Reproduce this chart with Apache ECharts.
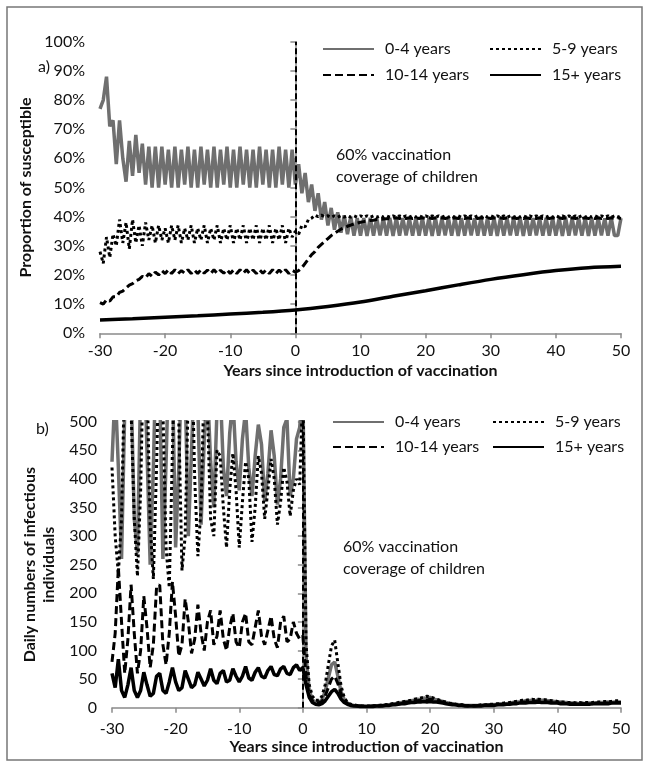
<!DOCTYPE html>
<html>
<head>
<meta charset="utf-8">
<script src="https://cdn.jsdelivr.net/npm/echarts@6/dist/echarts.min.js"></script>
<style>
  html, body { margin: 0; padding: 0; background: #fff; }
  #chart { width: 648px; height: 766px; }
</style>
</head>
<body>
<div id="chart"></div>
<script>
// sampling grid: every half year from -30 to 50
const years = [];
for (let i = 0; i <= 160; i++) years.push(-30 + i * 0.5);

const seriesNames = ['0-4 years', '5-9 years', '10-14 years', '15+ years'];

// ---- panel a) proportion of susceptible (%) ----
const aAge0to4 = [
  77,80,88,71,73,58,73,60,52,66,
  54,68,55,65,51,64,50,64,50,64,
  51,63,50,64,50,63,51,64,50,63,
  50,64,51,63,50,64,50,63,51,64,
  50,63,50,64,51,63,50,63,50,64,
  51,63,50,63,50,64,51,63,50,63,
  51,58,48,55,45,51,42,48,39,45,
  37,43,35.5,41.5,34.5,40.5,34,40,33.5,39.5,
  33.5,39.5,33.4,39.6,33.5,39.4,33.6,39.5,33.5,39.6,
  33.4,39.5,33.5,39.5,33.6,39.4,33.5,39.6,33.5,39.5,
  33.5,39.5,33.4,39.6,33.5,39.4,33.6,39.5,33.5,39.6,
  33.4,39.5,33.5,39.5,33.6,39.4,33.5,39.6,33.5,39.5,
  33.5,39.5,33.4,39.6,33.5,39.4,33.6,39.5,33.5,39.6,
  33.4,39.5,33.5,39.5,33.6,39.4,33.5,39.6,33.5,39.5,
  33.5,39.5,33.4,39.6,33.5,39.4,33.6,39.5,33.5,39.6,
  33.4,39.5,33.5,39.5,33.6,39.4,33.5,39.6,33.5,33.5,
  39.5
];
const aAge5to9 = [
  28,24,33,26,34,30,39,31,38,29,
  39,31,37,30,38,32,37,31,37,32,
  36,31,37,32,37,31,36,32,37,31,
  36,32,37,31,36,32,37,31,36,32,
  37,31,36,32,37,31,36,32,37,31,
  36,32,37,31,36,32,37,31,36,33,
  35,34,37,36.5,39,39.5,40.5,40,40.5,40,
  40.3,39.8,40.3,39.8,40.3,39.8,40.3,39.8,40.3,39.8,
  40.3,39.8,40.3,39.8,40.3,39.8,40.3,39.8,40.3,39.8,
  40.3,39.8,40.3,39.8,40.3,39.8,40.3,39.8,40.3,39.8,
  40.3,39.8,40.3,39.8,40.3,39.8,40.3,39.8,40.3,39.8,
  40.3,39.8,40.3,39.8,40.3,39.8,40.3,39.8,40.3,39.8,
  40.3,39.8,40.3,39.8,40.3,39.8,40.3,39.8,40.3,39.8,
  40.3,39.8,40.3,39.8,40.3,39.8,40.3,39.8,40.3,39.8,
  40.3,39.8,40.3,39.8,40.3,39.8,40.3,39.8,40.3,39.8,
  40.3,39.8,40.3,39.8,40.3,39.8,40.3,39.8,40.3,39.8,
  40.3
];
const aAge10to14 = [
  10.5,10,11.5,11,12.5,12.5,14,14.5,15.5,16.5,
  17,18,18.5,19.5,19,20.5,19.5,21,20,21.5,
  20.5,21.8,20.5,21.8,20.5,21.5,20.6,21.8,20.5,21.7,
  20.5,21.8,20.6,21.7,20.5,21.8,20.5,21.6,20.6,21.8,
  20.5,21.7,20.5,21.8,20.6,21.8,20.5,21.7,20.5,21.8,
  20.6,21.7,20.5,21.8,20.5,21.7,20.6,21.8,20.5,21.6,
  21,21.5,22.5,24,25.5,27,28,29.5,30.5,31.5,
  32.5,33.5,34.3,35,35.7,36.2,36.7,37.1,37.5,37.8,
  38.1,38.3,38.5,38.7,38.8,39,39.1,39.2,39.3,39.3,
  39.4,39.6,39.4,39.6,39.4,39.6,39.4,39.6,39.4,39.6,
  39.4,39.6,39.4,39.6,39.4,39.6,39.4,39.6,39.4,39.6,
  39.4,39.6,39.4,39.6,39.4,39.6,39.4,39.6,39.4,39.6,
  39.4,39.6,39.4,39.6,39.4,39.6,39.4,39.6,39.4,39.6,
  39.4,39.6,39.4,39.6,39.4,39.6,39.4,39.6,39.4,39.6,
  39.4,39.6,39.4,39.6,39.4,39.6,39.4,39.6,39.4,39.6,
  39.4,39.6,39.4,39.6,39.4,39.6,39.4,39.6,39.4,39.6,
  39.4
];
const aAdultYears = [-30,-25,-20,-15,-10,-5,0,5,10,15,20,25,30,35,40,45,50];
const aAge15plus = [4.6,5.0,5.5,6.0,6.6,7.2,8.0,9.2,10.7,12.7,14.6,16.6,18.5,20.1,21.5,22.5,23.0];

// ---- panel b) daily numbers of infectious individuals ----
const bAge0to4 = [
  430,560,420,260,520,640,560,330,270,560,
  640,450,250,420,650,560,260,430,640,580,
  280,420,630,560,300,450,600,520,320,470,
  560,430,350,520,560,420,370,480,540,430,
  380,470,520,420,370,440,495,460,360,410,
  485,440,355,400,490,505,370,400,470,490,
  560,
  90,30,14,9,9,14,28,52,75,80,
  55,28,14,8,5,4,3,3,3,2,
  3,3,3,4,4,5,5,6,7,8,
  9,10,11,12,13,15,14,17,15,18,
  15,14,12,11,9,8,7,6,5,5,
  4,4,4,4,4,4,5,5,5,5,
  6,6,7,7,8,9,10,10,11,12,
  12,13,12,14,13,13,12,12,11,10,
  10,9,9,8,8,8,7,8,7,8,
  8,8,9,9,9,10,9,10,10,10
];
const bAge5to9 = [
  420,300,235,330,600,700,520,330,230,380,
  650,580,320,225,420,680,520,280,210,450,
  680,500,240,300,560,650,400,265,350,580,
  520,330,300,450,440,350,280,380,445,380,
  280,360,430,400,290,350,440,410,330,380,
  435,400,320,360,420,395,335,380,400,390,
  560,
  110,40,20,13,13,20,40,75,108,118,
  78,38,18,9,6,5,4,3,3,3,
  3,3,4,4,5,5,6,7,8,9,
  10,11,12,13,15,16,17,18,20,19,
  17,15,13,11,10,8,7,6,5,5,
  4,4,4,4,4,5,5,5,6,6,
  7,7,8,9,9,10,11,12,13,13,
  14,15,14,15,14,14,13,12,12,11,
  10,10,9,9,9,8,9,8,9,9,
  9,10,10,10,11,11,11,12,12,12
];
const bAge10to14 = [
  80,130,245,150,60,120,215,130,60,100,
  195,140,70,110,210,215,110,75,130,220,
  160,90,110,190,150,95,120,180,130,100,
  150,170,110,125,170,120,100,140,165,115,
  105,150,165,115,110,140,170,125,110,135,
  160,120,105,150,160,115,120,150,130,120,
  125,
  55,22,12,8,8,11,20,35,50,55,
  42,24,12,7,5,4,3,3,2,2,
  2,3,3,3,4,4,5,5,6,7,
  8,9,10,11,12,12,13,14,13,15,
  13,12,11,10,8,7,6,5,5,4,
  4,3,3,3,4,4,4,4,5,5,
  5,6,6,7,7,8,9,9,10,10,
  11,11,11,12,11,11,10,10,9,9,
  8,8,8,7,7,7,7,7,7,7,
  7,8,8,8,8,8,9,9,9,9
];
const bAge15plus = [
  60,35,85,30,18,40,70,30,18,30,
  62,40,20,25,55,60,30,25,45,70,
  45,30,35,65,50,35,40,62,50,38,
  48,68,48,42,60,65,45,48,68,55,
  45,55,72,52,48,62,70,55,52,65,
  72,58,56,68,72,60,58,70,75,65,
  70,
  40,18,9,6,5,7,12,20,28,32,
  25,15,9,6,4,3,3,2,2,2,
  2,2,3,3,3,4,4,5,5,6,
  7,7,8,9,9,10,10,11,10,11,
  10,10,9,8,7,6,5,5,4,4,
  3,3,3,3,3,3,4,4,4,4,
  5,5,5,6,6,7,7,8,8,8,
  9,9,9,10,9,9,9,8,8,8,
  7,7,7,6,6,6,6,6,6,6,
  7,7,7,7,7,7,8,8,8,8
];

const FONT = 'Lato';
const GRAY = '#6f6f6f';

const styles = [
  { color: GRAY, width: 3.5, type: 'solid' },
  { color: '#000', width: 3, type: [3, 3] },
  { color: '#000', width: 3, type: [8, 4] },
  { color: '#000', width: 3.5, type: 'solid' }
];

function pairs(xs, ys) {
  return ys.map((v, i) => [xs[i], v]);
}

function makeSeries(idx, xi, yi, data, withMark) {
  const s = {
    name: seriesNames[idx],
    type: 'line',
    xAxisIndex: xi,
    yAxisIndex: yi,
    data: data,
    symbol: 'none',
    smooth: idx === 3 && xi === 0 ? 0.3 : false,
    lineStyle: { color: styles[idx].color, width: styles[idx].width, type: styles[idx].type },
    itemStyle: { color: styles[idx].color },
    emphasis: { disabled: true },
    silent: true
  };
  if (withMark) {
    s.markLine = {
      silent: true,
      symbol: 'none',
      label: { show: false },
      lineStyle: { color: '#000', width: 2, type: [6, 3] },
      data: [{ xAxis: 0 }]
    };
  }
  return s;
}

const chart = echarts.init(document.getElementById('chart'), null, { renderer: 'canvas' });

function xAxisCfg(gridIndex, labelMargin, nameGap) {
  return {
    type: 'value', gridIndex: gridIndex, min: -30, max: 50, interval: 10,
    name: 'Years since introduction of vaccination',
    nameLocation: 'middle', nameGap: nameGap,
    nameTextStyle: { fontFamily: FONT, fontSize: 16, fontWeight: 'bold', color: '#111' },
    axisLine: { lineStyle: { color: '#8a8a8a', width: 1.5 } },
    axisTick: { show: true, length: 5, lineStyle: { color: '#8a8a8a', width: 1.5 } },
    axisLabel: { fontFamily: FONT, fontSize: 16, color: '#111', margin: labelMargin },
    splitLine: { show: false }
  };
}

function legendItem(name, left, top) {
  return {
    data: [name], left: left, top: top, padding: 0,
    itemWidth: 51, itemHeight: 14,
    selectedMode: false,
    // hide the marker circle, keep only the line sample
    itemStyle: { color: 'rgba(0,0,0,0)', borderColor: 'rgba(0,0,0,0)', borderWidth: 0, opacity: 0 },
    textStyle: { fontFamily: FONT, fontSize: 16, color: '#111', padding: [0, 0, 0, 6] }
  };
}

const option = {
  animation: false,
  backgroundColor: '#fff',
  grid: [
    { left: 100, right: 27, top: 41.7, height: 291.6 },
    { left: 112, right: 27, top: 421.7, height: 286 }
  ],
  xAxis: [xAxisCfg(0, 10, 30), xAxisCfg(1, 13, 31)],
  yAxis: [
    {
      type: 'value', gridIndex: 0, min: 0, max: 100, interval: 10,
      name: 'Proportion of susceptible', nameLocation: 'middle', nameGap: 54,
      nameTextStyle: { fontFamily: FONT, fontSize: 16, fontWeight: 'bold', color: '#111' },
      axisLine: { show: true, lineStyle: { color: '#8a8a8a', width: 1.5 } },
      axisTick: { show: true, length: 5, lineStyle: { color: '#8a8a8a', width: 1.5 } },
      axisLabel: { fontFamily: FONT, fontSize: 16, color: '#111', margin: 15, formatter: '{value}%' },
      splitLine: { show: false }
    },
    {
      type: 'value', gridIndex: 1, min: 0, max: 500, interval: 50,
      name: 'Daily numbers of infectious\nindividuals', nameLocation: 'middle', nameGap: 48,
      nameTextStyle: { fontFamily: FONT, fontSize: 16, fontWeight: 'bold', color: '#111', lineHeight: 19 },
      axisLine: { show: true, lineStyle: { color: '#8a8a8a', width: 1.5 } },
      axisTick: { show: true, length: 5, lineStyle: { color: '#8a8a8a', width: 1.5 } },
      axisLabel: { fontFamily: FONT, fontSize: 16, color: '#111', margin: 15 },
      splitLine: { show: false }
    }
  ],
  legend: [
    legendItem('0-4 years', 322, 41),
    legendItem('5-9 years', 489, 41),
    legendItem('10-14 years', 322, 67),
    legendItem('15+ years', 489, 67),
    legendItem('0-4 years', 332, 414),
    legendItem('5-9 years', 492, 414),
    legendItem('10-14 years', 332, 439),
    legendItem('15+ years', 492, 439)
  ],
  series: [
    makeSeries(0, 0, 0, pairs(years, aAge0to4), true),
    makeSeries(1, 0, 0, pairs(years, aAge5to9), false),
    makeSeries(2, 0, 0, pairs(years, aAge10to14), false),
    makeSeries(3, 0, 0, pairs(aAdultYears, aAge15plus), false),
    makeSeries(0, 1, 1, pairs(years, bAge0to4), true),
    makeSeries(1, 1, 1, pairs(years, bAge5to9), false),
    makeSeries(2, 1, 1, pairs(years, bAge10to14), false),
    makeSeries(3, 1, 1, pairs(years, bAge15plus), false)
  ],
  graphic: [
    { type: 'rect', shape: { x: 7, y: 7, width: 635, height: 753 },
      style: { fill: 'none', stroke: '#777', lineWidth: 1.5 }, silent: true },
    { type: 'text', left: 38, top: 59, style: { text: 'a)', font: '16px ' + FONT, fill: '#111' } },
    { type: 'text', left: 36, top: 421, style: { text: 'b)', font: '16px ' + FONT, fill: '#111' } },
    { type: 'text', left: 336, top: 144,
      style: { text: '60% vaccination\ncoverage of children', font: '16px ' + FONT, fill: '#111', lineHeight: 22 } },
    { type: 'text', left: 343, top: 536,
      style: { text: '60% vaccination\ncoverage of children', font: '16px ' + FONT, fill: '#111', lineHeight: 22 } }
  ]
};

chart.setOption(option);
</script>
</body>
</html>
